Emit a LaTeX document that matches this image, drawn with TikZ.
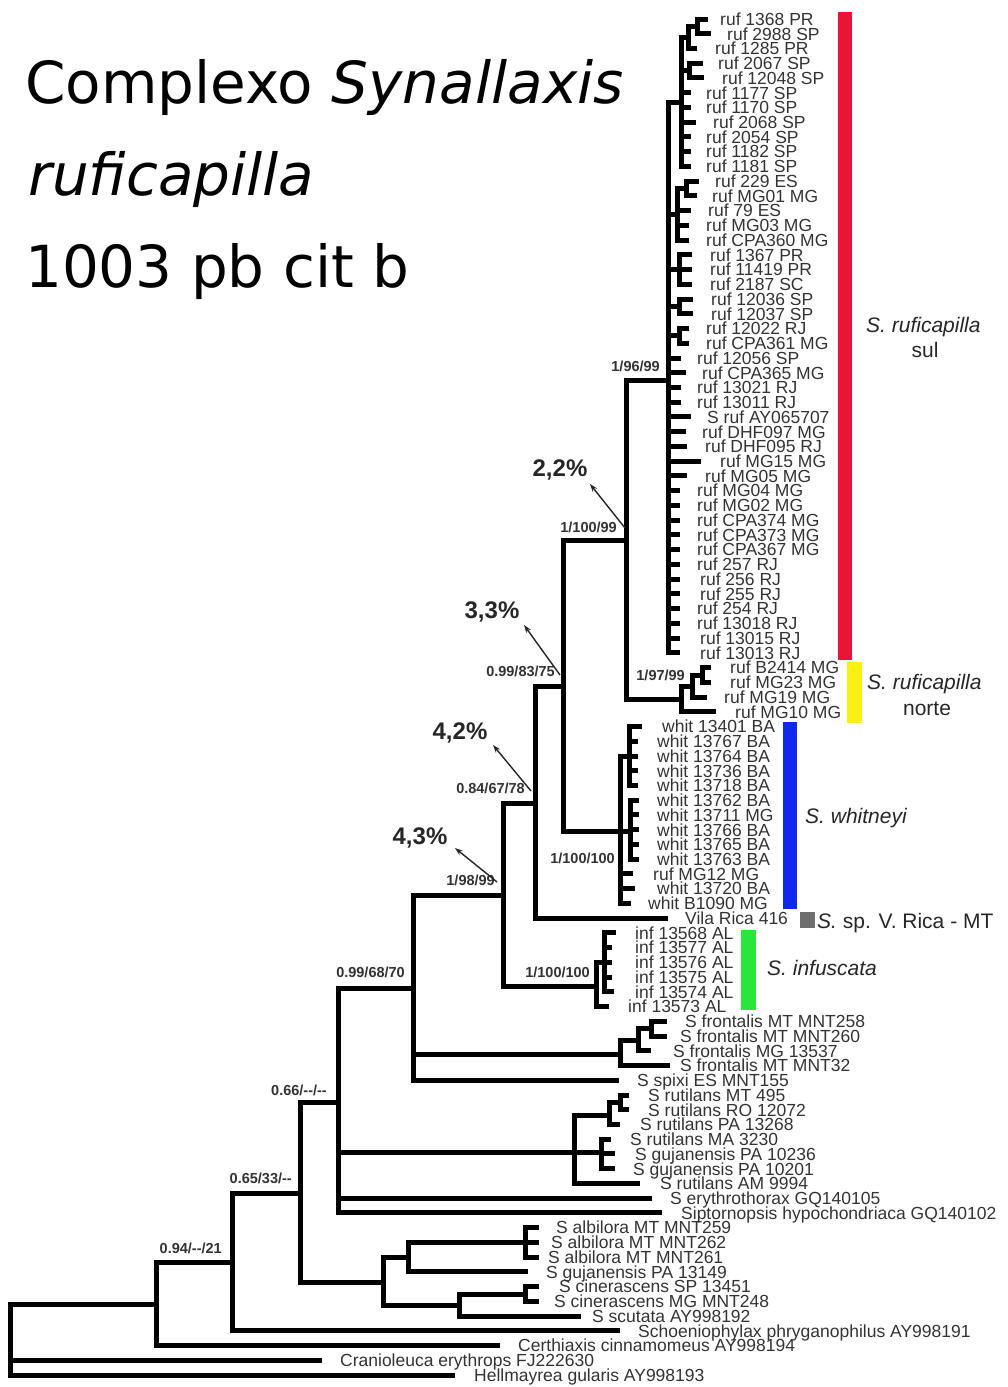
\documentclass[tikz,border=0pt]{standalone}
\usepackage{fontspec}
\setmainfont{Liberation Sans}
\newfontfamily\titlefont{DejaVu Sans}
\usetikzlibrary{arrows.meta}
\definecolor{cred}{RGB}{235,20,55}
\definecolor{cyel}{RGB}{250,240,20}
\definecolor{cblu}{RGB}{15,40,235}
\definecolor{cgrn}{RGB}{40,230,60}
\definecolor{cgry}{RGB}{110,110,110}
\newcommand{\lf}[5]{%
  \coordinate (#1) at (#3,{19+(#2-1)*14.74});
  \node[leaflab] (#1t) at (#4,{25.3+(#2-1)*14.74}) {#5};}
\newcommand{\kids}[2]{\foreach \c in {#2}{\draw[branch] (#1) |- (\c);}}
\begin{document}
\begin{tikzpicture}[x=1pt,y=-1pt,
  branch/.style={line width=5pt,line cap=rect,black},
  leaflab/.style={anchor=base west,inner sep=0,text=black!80,font=\fontsize{17.5}{17.5}\selectfont},
  sup/.style={anchor=base east,inner sep=0,text=black!80,font=\bfseries\fontsize{14.5}{14.5}\selectfont},
  pct/.style={inner sep=0,text=black!85,font=\bfseries\fontsize{24}{24}\selectfont},
  pctarrow/.style={line width=1.4pt,black!85,-{Stealth[length=8pt,width=5.5pt]}},
  clade/.style={anchor=base west,inner sep=0,text=black!85,font=\fontsize{21}{21}\selectfont},
  bar/.style={inner sep=0,draw=none},
  ttl/.style={anchor=base west,inner sep=0,text=black,font=\titlefont\fontsize{58}{58}\selectfont}]
\useasboundingbox (0,0) rectangle (1007,1387);

% ---------- title ----------
\node[ttl] (t1) at (25,103) {Complexo \textit{Synallaxis}};
\node[ttl] (t2) at (28,195) {\textit{ruficapilla}};
\node[ttl] (t3) at (25,287) {1003 pb cit b};

% ---------- coloured bars ----------
\node[bar,fill=cred,minimum width=14pt,minimum height=648pt] (redbar) at (845,336) {};
\node[bar,fill=cyel,minimum width=15pt,minimum height=61pt] (yelbar) at (854.5,692.5) {};
\node[bar,fill=cblu,minimum width=14pt,minimum height=187pt] (blubar) at (790,815.5) {};
\node[bar,fill=cgry,minimum width=15pt,minimum height=16pt] (grybox) at (807.5,920) {};
\node[bar,fill=cgrn,minimum width=15pt,minimum height=80pt] (grnbar) at (748.5,970) {};

% ---------- leaves ----------
\lf{L1}{1}{705}{720}{ruf 1368 PR}
\lf{L2}{2}{708}{727}{ruf 2988 SP}
\lf{L3}{3}{694}{715}{ruf 1285 PR}
\lf{L4}{4}{700}{718}{ruf 2067 SP}
\lf{L5}{5}{701}{722}{ruf 12048 SP}
\lf{L6}{6}{688}{706}{ruf 1177 SP}
\lf{L7}{7}{688}{706}{ruf 1170 SP}
\lf{L8}{8}{693}{713}{ruf 2068 SP}
\lf{L9}{9}{688}{706}{ruf 2054 SP}
\lf{L10}{10}{688}{706}{ruf 1182 SP}
\lf{L11}{11}{688}{706}{ruf 1181 SP}
\lf{L12}{12}{696}{715}{ruf 229 ES}
\lf{L13}{13}{694}{712}{ruf MG01 MG}
\lf{L14}{14}{688}{708}{ruf 79 ES}
\lf{L15}{15}{686}{706}{ruf MG03 MG}
\lf{L16}{16}{686}{706}{ruf CPA360 MG}
\lf{L17}{17}{689}{710}{ruf 1367 PR}
\lf{L18}{18}{689}{710}{ruf 11419 PR}
\lf{L19}{19}{689}{710}{ruf 2187 SC}
\lf{L20}{20}{690}{711}{ruf 12036 SP}
\lf{L21}{21}{690}{711}{ruf 12037 SP}
\lf{L22}{22}{686}{706}{ruf 12022 RJ}
\lf{L23}{23}{686}{706}{ruf CPA361 MG}
\lf{L24}{24}{678}{697}{ruf 12056 SP}
\lf{L25}{25}{683}{702}{ruf CPA365 MG}
\lf{L26}{26}{678}{697}{ruf 13021 RJ}
\lf{L27}{27}{678}{697}{ruf 13011 RJ}
\lf{L28}{28}{688}{707}{S ruf AY065707}
\lf{L29}{29}{683}{702}{ruf DHF097 MG}
\lf{L30}{30}{684}{705}{ruf DHF095 RJ}
\lf{L31}{31}{698}{720}{ruf MG15 MG}
\lf{L32}{32}{684}{705}{ruf MG05 MG}
\lf{L33}{33}{677}{697}{ruf MG04 MG}
\lf{L34}{34}{677}{697}{ruf MG02 MG}
\lf{L35}{35}{677}{697}{ruf CPA374 MG}
\lf{L36}{36}{677}{697}{ruf CPA373 MG}
\lf{L37}{37}{677}{697}{ruf CPA367 MG}
\lf{L38}{38}{677}{697}{ruf 257 RJ}
\lf{L39}{39}{677}{700}{ruf 256 RJ}
\lf{L40}{40}{677}{700}{ruf 255 RJ}
\lf{L41}{41}{677}{697}{ruf 254 RJ}
\lf{L42}{42}{677}{697}{ruf 13018 RJ}
\lf{L43}{43}{677}{700}{ruf 13015 RJ}
\lf{L44}{44}{677}{700}{ruf 13013 RJ}
\lf{L45}{45}{708}{730}{ruf B2414 MG}
\lf{L46}{46}{708}{730}{ruf MG23 MG}
\lf{L47}{47}{704}{724}{ruf MG19 MG}
\lf{L48}{48}{713}{735}{ruf MG10 MG}
\lf{L49}{49}{639}{662}{whit 13401 BA}
\lf{L50}{50}{635}{657}{whit 13767 BA}
\lf{L51}{51}{635}{657}{whit 13764 BA}
\lf{L52}{52}{635}{657}{whit 13736 BA}
\lf{L53}{53}{635}{657}{whit 13718 BA}
\lf{L54}{54}{636}{657}{whit 13762 BA}
\lf{L55}{55}{636}{657}{whit 13711 MG}
\lf{L56}{56}{636}{657}{whit 13766 BA}
\lf{L57}{57}{636}{657}{whit 13765 BA}
\lf{L58}{58}{636}{657}{whit 13763 BA}
\lf{L59}{59}{630}{653}{ruf MG12 MG}
\lf{L60}{60}{632}{657}{whit 13720 BA}
\lf{L61}{61}{628}{648}{whit B1090 MG}
\lf{L62}{62}{665}{685}{Vila Rica 416}
\lf{L63}{63}{613}{635}{inf 13568 AL}
\lf{L64}{64}{609}{635}{inf 13577 AL}
\lf{L65}{65}{609}{635}{inf 13576 AL}
\lf{L66}{66}{609}{635}{inf 13575 AL}
\lf{L67}{67}{611}{635}{inf 13574 AL}
\lf{L68}{68}{606}{628}{inf 13573 AL}
\lf{L69}{69}{664}{685}{S frontalis MT MNT258}
\lf{L70}{70}{664}{680}{S frontalis MT MNT260}
\lf{L71}{71}{648}{673}{S frontalis MG 13537}
\lf{L72}{72}{667}{680}{S frontalis MT MNT32}
\lf{L73}{73}{616}{637}{S spixi ES MNT155}
\lf{L74}{74}{626}{648}{S rutilans MT 495}
\lf{L75}{75}{626}{648}{S rutilans RO 12072}
\lf{L76}{76}{617}{640}{S rutilans PA 13268}
\lf{L77}{77}{608}{630}{S rutilans MA 3230}
\lf{L78}{78}{612}{635}{S gujanensis PA 10236}
\lf{L79}{79}{612}{633}{S gujanensis PA 10201}
\lf{L80}{80}{637}{660}{S rutilans AM 9994}
\lf{L81}{81}{649}{670}{S erythrothorax GQ140105}
\lf{L82}{82}{659}{681}{Siptornopsis hypochondriaca GQ140102}
\lf{L83}{83}{536}{556}{S albilora MT MNT259}
\lf{L84}{84}{536}{551}{S albilora MT MNT262}
\lf{L85}{85}{536}{548}{S albilora MT MNT261}
\lf{L86}{86}{525}{546}{S gujanensis PA 13149}
\lf{L87}{87}{536}{559}{S cinerascens SP 13451}
\lf{L88}{88}{536}{554}{S cinerascens MG MNT248}
\lf{L89}{89}{578}{592}{S scutata AY998192}
\lf{L90}{90}{617}{638}{Schoeniophylax phryganophilus AY998191}
\lf{L91}{91}{497}{518}{Certhiaxis cinnamomeus AY998194}
\lf{L92}{92}{319}{340}{Cranioleuca erythrops FJ222630}
\lf{L93}{93}{452}{474}{Hellmayrea gularis AY998193}

% ---------- internal nodes ----------
\coordinate (p12) at (697,26.4);
\coordinate (p123) at (688,37);
\coordinate (p45) at (689,70.6);
\coordinate (n1) at (681,102);
\coordinate (p1213) at (686,188.5);
\coordinate (n2) at (677,214);
\coordinate (n3) at (679,269.6);
\coordinate (n4) at (679,306.4);
\coordinate (n5) at (679,335.9);
\coordinate (redc) at (668,380);
\coordinate (yp) at (702,675);
\coordinate (ys) at (692,686.5);
\coordinate (yc) at (681,699);
\coordinate (n22) at (626,540);
\coordinate (wA) at (629,756);
\coordinate (wB) at (630,831);
\coordinate (wc) at (620,831);
\coordinate (n33) at (563,686);
\coordinate (n42) at (535,803);
\coordinate (iS) at (604,962.4);
\coordinate (ic) at (596,986);
\coordinate (n43) at (503,895);
\coordinate (fp) at (651,1028.7);
\coordinate (fs) at (638,1040);
\coordinate (fc) at (620,1054);
\coordinate (n99) at (413,988);
\coordinate (rp) at (620,1102.4);
\coordinate (rA) at (609,1115);
\coordinate (rB) at (601,1152);
\coordinate (rc) at (574,1152);
\coordinate (n66) at (338,1102);
\coordinate (aT) at (525,1242.4);
\coordinate (aA) at (408,1257);
\coordinate (cP) at (525,1294);
\coordinate (aB) at (459,1305);
\coordinate (ac) at (383,1282);
\coordinate (n65) at (300,1193);
\coordinate (n94) at (232,1262);
\coordinate (n156) at (156,1304);
\coordinate (root) at (10,1304);

% ---------- branches ----------
\kids{p12}{L1,L2}
\kids{p123}{p12,L3}
\kids{p45}{L4,L5}
\kids{n1}{p123,p45,L6,L7,L8,L9,L10,L11}
\kids{p1213}{L12,L13}
\kids{n2}{p1213,L14,L15,L16}
\kids{n3}{L17,L18,L19}
\kids{n4}{L20,L21}
\kids{n5}{L22,L23}
\kids{redc}{n1,n2,n3,n4,n5}
\foreach \i in {24,...,44}{\draw[branch] (redc) |- (L\i);}
\kids{yp}{L45,L46}
\kids{ys}{yp,L47}
\kids{yc}{ys,L48}
\kids{n22}{redc,yc}
\kids{wA}{L49,L50,L51,L52,L53}
\kids{wB}{L54,L55,L56,L57,L58}
\kids{wc}{wA,wB,L59,L60,L61}
\kids{n33}{n22,wc}
\kids{n42}{n33,L62}
\kids{iS}{L63,L64,L65,L66,L67}
\kids{ic}{iS,L68}
\kids{n43}{n42,ic}
\kids{fp}{L69,L70}
\kids{fs}{fp,L71}
\kids{fc}{fs,L72}
\kids{n99}{n43,fc,L73}
\kids{rp}{L74,L75}
\kids{rA}{rp,L76}
\kids{rB}{L77,L78,L79}
\kids{rc}{rA,rB,L80}
\kids{n66}{n99,rc,L81,L82}
\kids{aT}{L83,L84,L85}
\kids{aA}{aT,L86}
\kids{cP}{L87,L88}
\kids{aB}{cP,L89}
\kids{ac}{aA,aB}
\kids{n65}{n66,ac}
\kids{n94}{n65,L90}
\kids{n156}{n94,L91}
\kids{root}{n156,L92,L93}

% ---------- support values ----------
\node[sup] (s1) at (660,371) {1/96/99};
\node[sup] (s2) at (617,532) {1/100/99};
\node[sup] (s3) at (555,676) {0.99/83/75};
\node[sup] (s4) at (685,680) {1/97/99};
\node[sup] (s5) at (525,793) {0.84/67/78};
\node[sup] (s6) at (615,863) {1/100/100};
\node[sup] (s7) at (495,885) {1/98/99};
\node[sup] (s8) at (590,977) {1/100/100};
\node[sup] (s9) at (405,977) {0.99/68/70};
\node[sup] (s10) at (327,1095) {0.66/-{}-/-{}-};
\node[sup] (s11) at (292,1183) {0.65/33/-{}-};
\node[sup] (s12) at (222,1253) {0.94/-{}-/21};

% ---------- divergence percentages ----------
\node[pct] (q22) at (560,470) {2,2\%};
\node[pct] (q33) at (492,612) {3,3\%};
\node[pct] (q42) at (460,733) {4,2\%};
\node[pct] (q43) at (420,838) {4,3\%};
\coordinate (a22s) at (625,528); \coordinate (a22e) at (590,484);
\coordinate (a33s) at (560,675); \coordinate (a33e) at (524,625);
\coordinate (a42s) at (531,791); \coordinate (a42e) at (493,745);
\coordinate (a43s) at (497,882); \coordinate (a43e) at (455,848);
\draw[pctarrow] (a22s) -- (a22e);
\draw[pctarrow] (a33s) -- (a33e);
\draw[pctarrow] (a42s) -- (a42e);
\draw[pctarrow] (a43s) -- (a43e);

% ---------- clade names ----------
\node[clade] (c1) at (866,332) {\textit{S. ruficapilla}};
\node[clade,anchor=base] (c1b) at (925,357) {sul};
\node[clade] (c2) at (867,689) {\textit{S. ruficapilla}};
\node[clade,anchor=base] (c2b) at (927,715) {norte};
\node[clade] (c3) at (805,823) {\textit{S. whitneyi}};
\node[clade] (c4) at (817,928) {\textit{S.} sp. V. Rica - MT};
\node[clade] (c5) at (767,975) {\textit{S. infuscata}};
\end{tikzpicture}
\end{document}
